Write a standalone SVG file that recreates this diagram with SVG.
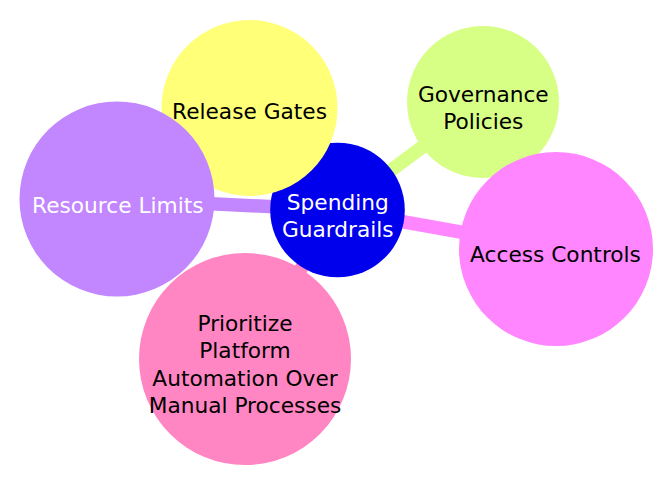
<svg xmlns="http://www.w3.org/2000/svg" width="672" height="485" viewBox="0 0 672 485">
<style>
.lbl{font-family:"DejaVu Sans",Verdana,sans-serif;font-size:21.7px;text-anchor:middle}
.dark{fill:#000000}
.light{fill:#ffffff}
.edge{fill:none;stroke-width:13.5;stroke-linecap:butt}
</style>
<rect width="672" height="485" fill="#ffffff"/>
<g id="connectors">
<line class="edge" x1="337.5" y1="210" x2="249.5" y2="108" stroke="#ffff78"/>
<line class="edge" x1="337.5" y1="210" x2="483" y2="102" stroke="#d7ff86"/>
<line class="edge" x1="337.5" y1="210" x2="556" y2="249" stroke="#ff86ff"/>
<line class="edge" x1="337.5" y1="210" x2="117" y2="199" stroke="#c286ff"/>
<line class="edge" x1="337.5" y1="210" x2="245" y2="359" stroke="#ff86c2"/>
</g>
<g id="root">
<circle cx="337.5" cy="210" r="67.3" fill="#0000ec"/>
<text class="lbl light" x="337.8" y="210">Spending</text>
<text class="lbl light" x="337.8" y="236.7">Guardrails</text>
</g>
<g id="release-gates">
<circle cx="249.5" cy="108" r="88" fill="#ffff78"/>
<text class="lbl dark" x="249.5" y="119.3">Release Gates</text>
</g>
<g id="governance-policies">
<circle cx="483" cy="102" r="76" fill="#d7ff86"/>
<text class="lbl dark" x="483.3" y="101.7">Governance</text>
<text class="lbl dark" x="483.3" y="129.3">Policies</text>
</g>
<g id="access-controls">
<circle cx="556" cy="249" r="97" fill="#ff86ff"/>
<text class="lbl dark" x="555.5" y="261.7">Access Controls</text>
</g>
<g id="resource-limits">
<circle cx="117" cy="199" r="97.5" fill="#c286ff"/>
<text class="lbl light" x="117.8" y="212.7">Resource Limits</text>
</g>
<g id="prioritize">
<circle cx="245" cy="359" r="106" fill="#ff86c2"/>
<text class="lbl dark" x="245" y="330.7">Prioritize</text>
<text class="lbl dark" x="245" y="358.3">Platform</text>
<text class="lbl dark" x="245" y="386">Automation Over</text>
<text class="lbl dark" x="245" y="413.3">Manual Processes</text>
</g>
</svg>
